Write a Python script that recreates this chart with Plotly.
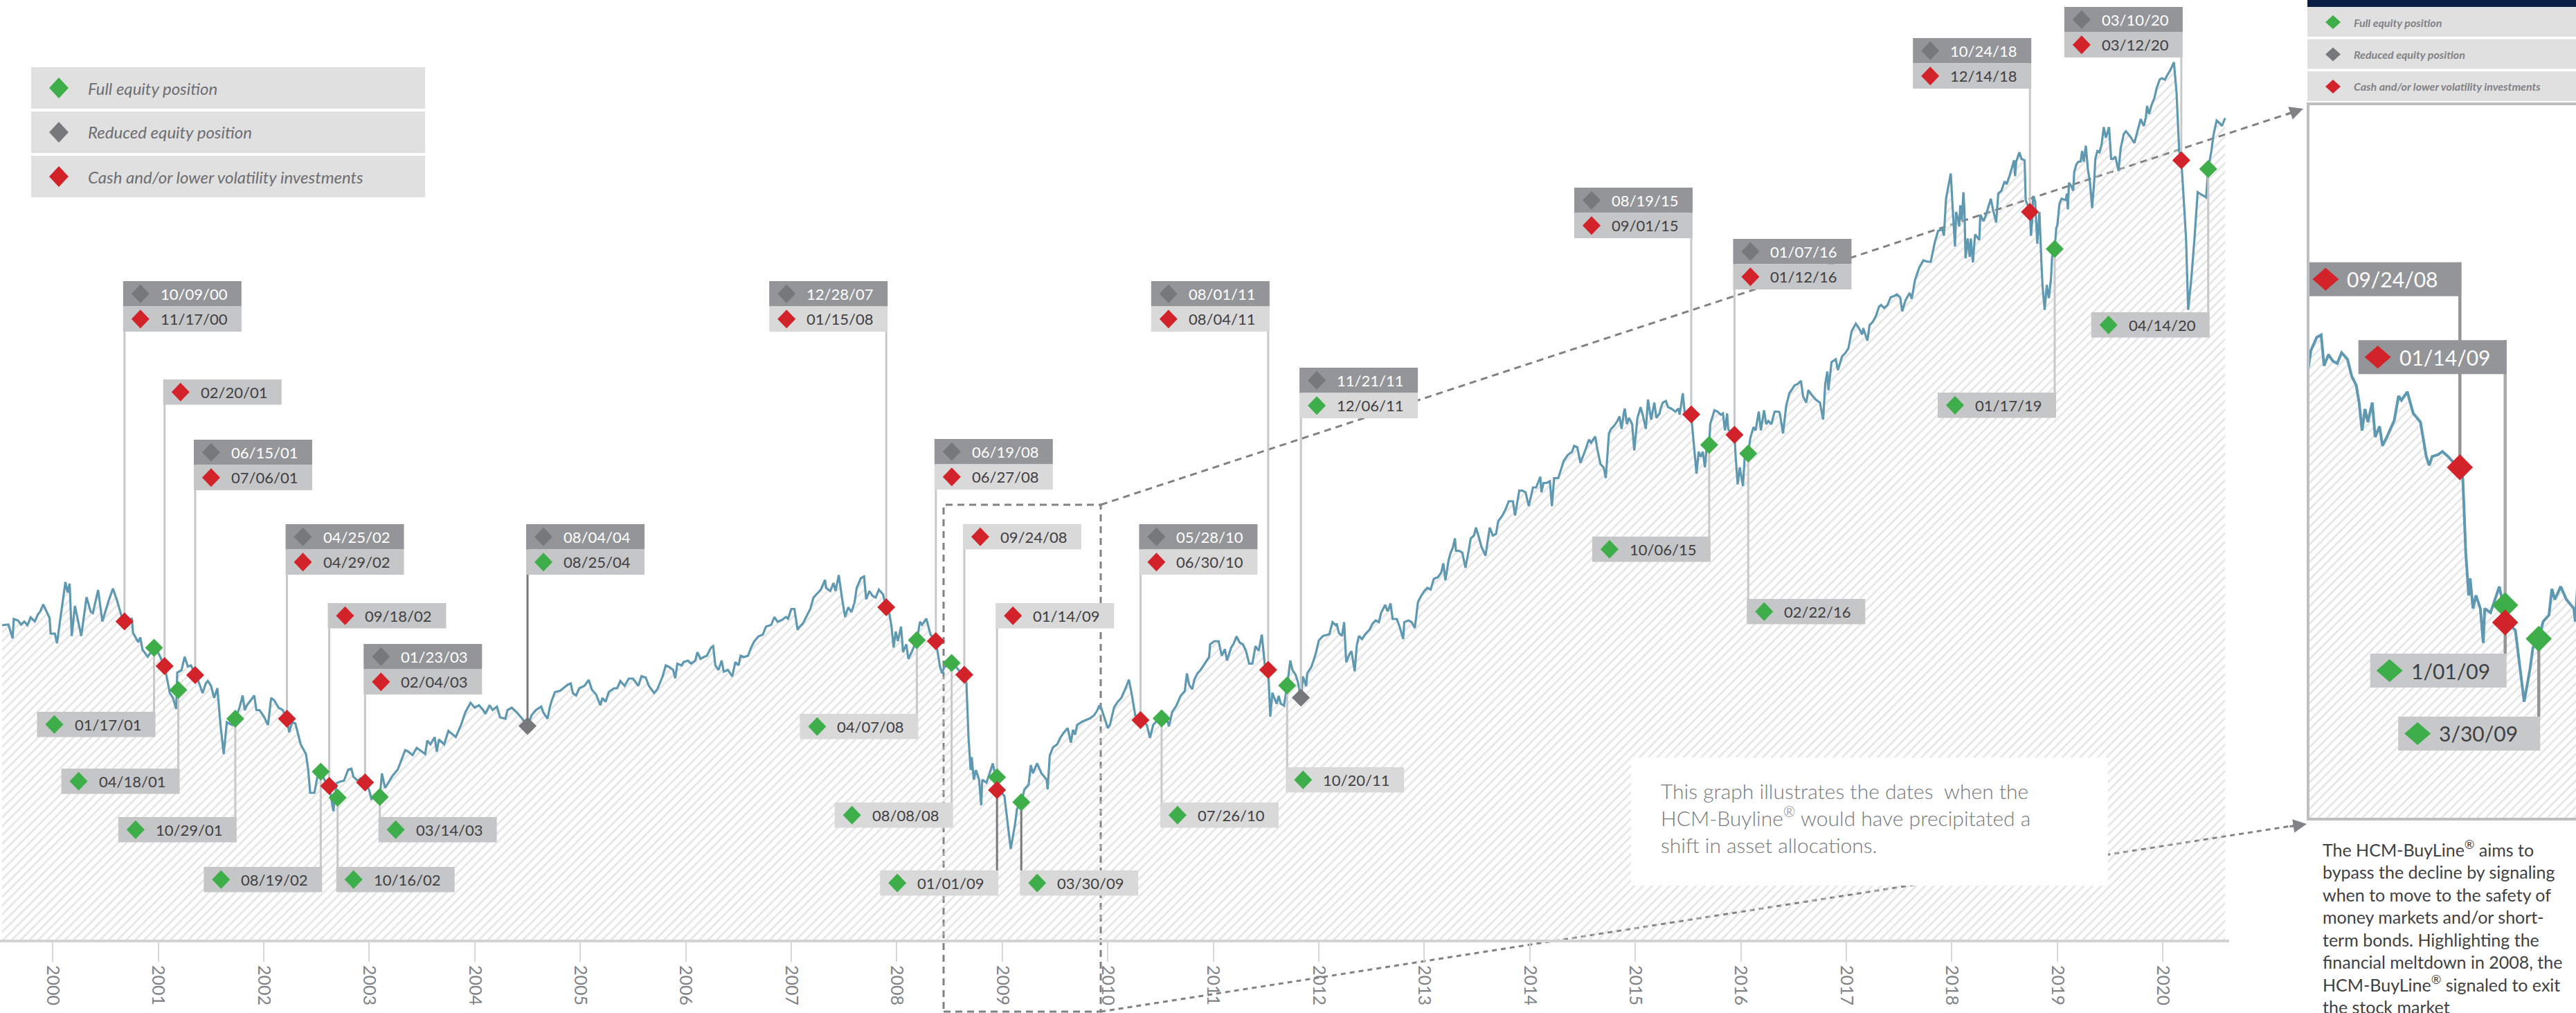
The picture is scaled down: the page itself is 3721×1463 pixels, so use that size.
import plotly.graph_objects as go

W, H = 3721, 1463

# ---------------- series (decimal year, index value) ----------------
years = [
 1999.52,1999.58,1999.62,1999.63,1999.67,1999.70,1999.73,1999.76,1999.79,1999.83,1999.86,1999.88,1999.91,1999.94,1999.97,1999.98,
 2000.02,2000.04,2000.09,2000.12,2000.14,2000.16,2000.18,2000.21,2000.27,2000.32,2000.36,2000.38,2000.43,2000.47,2000.53,2000.57,
 2000.61,2000.65,2000.68,2000.71,2000.75,2000.76,2000.81,2000.83,2000.85,2000.90,2000.96,2000.99,2001.06,2001.08,2001.11,2001.14,
 2001.17,2001.18,2001.22,2001.25,2001.28,2001.31,2001.35,2001.38,2001.42,2001.45,2001.47,2001.50,2001.53,2001.56,2001.59,2001.62,
 2001.65,2001.70,2001.73,2001.77,2001.80,2001.82,2001.84,2001.88,2001.91,2001.93,2001.96,2002.00,2002.04,2002.07,2002.10,2002.14,
 2002.18,2002.22,2002.24,2002.27,2002.30,2002.35,2002.40,2002.42,2002.44,2002.48,2002.51,2002.54,2002.58,2002.62,2002.64,2002.66,
 2002.69,2002.72,2002.76,2002.80,2002.83,2002.85,2002.89,2002.92,2002.96,2003.00,2003.02,2003.08,2003.10,2003.12,2003.15,2003.18,
 2003.22,2003.27,2003.31,2003.34,2003.37,2003.41,2003.45,2003.50,2003.53,2003.55,2003.58,2003.62,2003.64,2003.66,2003.71,2003.75,
 2003.79,2003.82,2003.87,2003.91,2003.96,2004.00,2004.04,2004.08,2004.10,2004.14,2004.17,2004.21,2004.24,2004.29,2004.31,2004.35,
 2004.40,2004.45,2004.50,2004.54,2004.58,2004.63,2004.65,2004.69,2004.71,2004.73,2004.76,2004.81,2004.88,2004.91,2004.93,2004.96,
 2004.99,2005.04,2005.08,2005.11,2005.15,2005.19,2005.21,2005.24,2005.27,2005.32,2005.35,2005.38,2005.42,2005.46,2005.50,2005.55,
 2005.58,2005.62,2005.65,2005.70,2005.73,2005.78,2005.81,2005.84,2005.88,2005.90,2005.92,2005.96,2005.98,2006.02,2006.05,2006.09,
 2006.11,2006.14,2006.17,2006.20,2006.24,2006.26,2006.28,2006.31,2006.34,2006.36,2006.40,2006.44,2006.47,2006.50,2006.52,2006.55,
 2006.59,2006.62,2006.65,2006.69,2006.73,2006.76,2006.81,2006.84,2006.87,2006.91,2006.95,2006.97,2007.00,2007.03,2007.06,2007.08,
 2007.11,2007.14,2007.18,2007.21,2007.24,2007.28,2007.32,2007.33,2007.37,2007.40,2007.42,2007.45,2007.48,2007.51,2007.54,2007.57,
 2007.60,2007.62,2007.66,2007.69,2007.71,2007.74,2007.77,2007.80,2007.83,2007.87,2007.90,2007.93,2007.95,2007.97,2007.99,2008.01,
 2008.04,2008.06,2008.09,2008.11,2008.14,2008.19,2008.22,2008.24,2008.28,2008.30,2008.32,2008.37,2008.39,2008.41,2008.43,2008.45,
 2008.49,2008.52,2008.56,2008.60,2008.64,2008.66,2008.68,2008.70,2008.71,2008.73,2008.75,2008.78,2008.80,2008.81,2008.85,2008.88,
 2008.91,2008.95,2008.99,2009.02,2009.04,2009.06,2009.08,2009.12,2009.14,2009.18,2009.21,2009.25,2009.27,2009.29,2009.33,2009.37,
 2009.42,2009.43,2009.45,2009.48,2009.52,2009.55,2009.58,2009.62,2009.65,2009.67,2009.69,2009.71,2009.76,2009.83,2009.87,2009.90,
 2009.92,2009.94,2009.97,2010.00,2010.02,2010.06,2010.09,2010.13,2010.17,2010.20,2010.23,2010.26,2010.31,2010.34,2010.37,2010.40,
 2010.43,2010.46,2010.51,2010.55,2010.58,2010.61,2010.65,2010.69,2010.73,2010.75,2010.77,2010.80,2010.82,2010.85,2010.88,2010.92,
 2010.96,2010.97,2011.01,2011.05,2011.08,2011.11,2011.13,2011.17,2011.19,2011.22,2011.25,2011.28,2011.31,2011.34,2011.37,2011.40,
 2011.43,2011.46,2011.49,2011.52,2011.53,2011.54,2011.56,2011.58,2011.60,2011.62,2011.64,2011.67,2011.70,2011.73,2011.75,2011.78,
 2011.80,2011.83,2011.85,2011.88,2011.89,2011.93,2011.97,
 2012.00,2012.04,2012.10,2012.13,2012.16,2012.17,2012.19,2012.22,2012.24,2012.26,2012.29,2012.31,2012.34,2012.36,2012.38,2012.41,
 2012.44,2012.48,2012.51,2012.54,2012.57,2012.59,2012.63,2012.65,2012.66,2012.68,2012.70,2012.74,2012.77,2012.80,2012.81,2012.85,
 2012.88,2012.91,2012.94,2012.97,2013.00,2013.03,2013.06,2013.09,2013.13,2013.16,2013.18,2013.20,2013.23,2013.25,2013.27,2013.29,
 2013.30,2013.33,2013.36,2013.39,2013.42,2013.44,2013.47,2013.49,2013.52,2013.54,2013.58,2013.61,2013.62,2013.65,2013.68,2013.70,
 2013.74,2013.77,2013.80,2013.84,2013.86,2013.90,2013.93,2013.96,2013.99,2014.03,2014.06,2014.10,2014.11,2014.13,2014.16,2014.19,
 2014.21,2014.23,2014.27,2014.32,2014.36,2014.40,2014.42,2014.45,2014.48,2014.53,2014.56,2014.58,2014.62,2014.64,2014.67,2014.70,
 2014.72,2014.75,2014.77,2014.80,2014.83,2014.85,2014.87,2014.89,2014.90,2014.92,2014.94,2014.97,2014.99,2015.02,2015.05,2015.07,
 2015.10,2015.12,2015.15,2015.18,2015.20,2015.23,2015.24,2015.26,2015.29,2015.31,2015.34,2015.38,2015.41,2015.42,2015.45,2015.47,
 2015.51,2015.53,2015.54,2015.56,2015.58,2015.60,2015.62,2015.64,2015.66,2015.68,2015.70,2015.71,2015.75,2015.78,2015.81,2015.83,
 2015.85,2015.87,2015.88,2015.91,2015.94,2015.95,2015.97,2015.99,2016.02,2016.04,2016.07,2016.09,2016.12,2016.14,2016.17,2016.19,
 2016.22,2016.24,2016.26,2016.29,2016.32,2016.36,2016.37,2016.40,2016.43,2016.46,2016.51,2016.54,2016.57,2016.59,2016.62,2016.64,
 2016.67,2016.71,2016.75,2016.78,2016.80,2016.82,2016.83,2016.86,2016.90,2016.92,2016.96,2016.99,2017.02,2017.05,2017.09,2017.12,
 2017.15,2017.16,2017.20,2017.22,2017.25,2017.28,2017.31,2017.33,2017.36,2017.39,2017.42,2017.46,2017.48,2017.51,2017.53,2017.56,
 2017.60,2017.62,2017.65,2017.69,2017.73,2017.77,2017.80,2017.84,2017.87,
 2017.91,2017.925,2017.945,2017.97,2017.99,2018.01,2018.03,2018.04,2018.06,2018.07,2018.08,2018.095,2018.11,2018.12,2018.13,2018.15,
 2018.17,2018.18,2018.20,2018.22,2018.24,2018.26,2018.27,2018.30,2018.32,2018.34,2018.37,2018.39,2018.42,2018.44,2018.47,2018.50,
 2018.52,2018.55,2018.59,2018.60,2018.61,2018.64,2018.66,2018.69,2018.70,2018.72,2018.74,2018.75,2018.76,2018.77,2018.79,2018.81,
 2018.83,2018.85,2018.86,2018.88,2018.90,2018.92,2018.94,2018.95,2018.975,2018.99,2019.00,2019.02,2019.04,2019.08,2019.09,2019.10,
 2019.11,2019.13,2019.15,2019.16,2019.18,2019.20,2019.22,2019.235,2019.25,2019.27,2019.29,2019.31,2019.33,2019.35,2019.36,2019.38,
 2019.40,2019.42,2019.44,2019.46,2019.48,2019.49,2019.51,2019.53,2019.55,2019.58,2019.60,2019.63,2019.65,2019.69,2019.73,2019.77,
 2019.79,2019.82,2019.84,2019.85,2019.87,2019.89,2019.92,2019.94,2019.97,2019.99,2020.02,2020.04,2020.07,2020.105,2020.13,2020.155,
 2020.175,2020.19,2020.22,2020.24,2020.27,2020.30,2020.33,2020.37,2020.41,2020.43,2020.46,2020.48,2020.51,2020.54,2020.56,2020.59,
]
values = [
 908,910,870,926,922,910,919,908,931,919,940,947,968,950,929,884,
 884,856,971,1033,1003,1028,877,964,877,989,947,943,1010,919,979,1014,
 979,936,919,908,929,887,859,873,838,817,843,835,790,761,712,698,
 666,771,778,817,789,792,764,747,712,740,747,733,698,726,620,536,
 628,620,638,670,705,663,677,694,705,663,663,645,620,698,691,670,
 663,638,599,628,624,564,536,494,424,424,473,485,459,444,410,371,
 452,456,459,491,494,470,459,466,454,431,406,417,412,480,438,452,
 473,491,522,547,543,533,554,543,536,575,564,585,543,578,564,603,
 592,585,620,656,684,670,677,663,652,677,663,673,642,638,663,670,
 656,638,617,649,663,673,656,638,670,691,715,719,736,740,712,705,
 726,733,750,722,708,677,698,687,715,726,726,747,733,754,754,733,
 761,757,733,712,723,760,792,788,779,755,797,792,802,806,797,806,
 830,811,816,820,844,848,792,779,806,774,779,760,802,792,820,816,
 820,844,862,876,881,904,909,932,918,923,932,927,955,955,895,904,
 913,932,955,988,997,1011,1039,1016,1007,1030,1007,1053,988,932,960,946,
 974,1016,1044,1049,983,1007,993,988,1011,997,960,941,904,844,890,862,
 904,830,853,811,830,865,918,909,927,904,881,862,825,788,769,788,
 792,799,788,774,765,741,583,490,527,462,490,462,388,462,453,481,
 509,450,425,415,360,313,262,332,378,397,434,448,504,481,509,481,
 462,434,532,555,564,583,597,611,569,606,592,620,630,639,648,662,
 676,667,639,611,620,671,685,699,727,751,704,648,634,630,620,583,
 620,630,639,648,616,657,676,704,718,769,737,723,751,769,779,797,
 816,853,862,862,820,839,806,844,853,876,858,853,834,797,797,848,
 834,881,788,779,695,644,713,699,681,704,681,676,734,806,779,765,
 746,699,760,732,769,788,825,
 864,877,882,917,908,913,886,877,917,801,824,833,775,850,877,868,
 882,895,913,922,917,944,967,949,953,971,926,926,900,868,917,922,
 917,900,975,993,1007,1016,1011,1042,1047,1060,1087,1038,1096,1118,1132,1159,
 1123,1123,1118,1074,1123,1159,1167,1190,1159,1136,1109,1167,1190,1167,1172,1208,
 1225,1243,1266,1266,1225,1297,1297,1292,1252,1306,1306,1337,1292,1319,1319,1324,
 1252,1333,1333,1382,1400,1409,1426,1422,1377,1417,1444,1435,1453,1417,1373,1364,
 1333,1462,1475,1484,1498,1511,1475,1520,1534,1489,1507,1489,1413,1507,1538,1516,
 1475,1560,1502,1551,1507,1520,1534,1551,1556,1538,1534,1525,1534,1516,1578,1516,
 1516,1517,1480,1409,1346,1409,1395,1409,1364,1435,1429,1489,1529,1525,1516,1520,
 1471,1520,1475,1462,1458,1400,1315,1364,1310,1409,1404,1449,1480,1471,1525,1471,
 1529,1489,1498,1489,1525,1525,1520,1462,1542,1578,1601,1605,1614,1569,1551,1587,
 1574,1560,1551,1502,1605,1641,1587,1668,1676,1645,1685,1694,1708,1757,1779,1766,
 1748,1766,1730,1775,1784,1801,1828,1833,1824,1833,1855,1860,1864,1855,1815,1846,
 1868,1851,1904,1940,1962,1958,1958,2016,2047,
 2052,2033,2140,2178,2213,2102,2002,2102,2079,2060,2121,2079,2159,2102,1968,2025,
 1972,2025,1956,2037,2029,2021,2094,2075,2090,2109,2140,2109,2071,2155,2163,2190,
 2182,2209,2251,2205,2247,2274,2255,2251,2136,2121,2102,2033,2071,2148,2132,2010,
 2102,1949,1887,1819,1891,1853,1910,1972,1995,2056,2063,2125,2140,2136,2155,2109,
 2186,2178,2163,2217,2239,2247,2247,2278,2247,2293,2224,2186,2113,2193,2255,2278,
 2274,2297,2347,2316,2339,2347,2255,2255,2262,2220,2285,2327,2335,2320,2301,2347,
 2370,2350,2377,2408,2385,2408,2431,2458,2484,2488,2484,2496,2511,2534,2446,2278,
 2251,2178,2025,1819,1910,2025,2159,2151,2144,2226,2278,2324,2366,2358,2350,2373,
]

# ---------------- allocation signals plotted on the line ----------------
sig_years = [2000.68, 2000.96, 2001.06, 2001.19, 2001.35, 2001.73, 2002.22, 2002.54, 2002.62, 2002.70,
             2002.96, 2003.10, 2004.50, 2007.90, 2008.19, 2008.37, 2008.52, 2008.64, 2008.95, 2008.95,
             2009.18, 2010.31, 2010.51, 2011.52, 2011.70, 2011.83, 2015.53, 2015.70, 2015.94, 2016.07,
             2018.74, 2018.975, 2020.175, 2020.43]
sig_values = [919, 843, 790, 721, 764, 638, 638, 485, 444, 410,
              454, 412, 617, 960, 865, 862, 799, 765, 469, 432,
              397, 634, 639, 779, 734, 699, 1517, 1429, 1458, 1404,
              2102, 1995, 2251, 2226]
sig_kinds = ['cash', 'full', 'cash', 'full', 'cash', 'full', 'cash', 'full', 'cash', 'full',
             'cash', 'full', 'reduced', 'cash', 'full', 'cash', 'full', 'cash', 'full', 'cash',
             'full', 'cash', 'full', 'cash', 'full', 'reduced', 'cash', 'full', 'cash', 'full',
             'cash', 'full', 'cash', 'full']

# ---------------- date call-outs ----------------
lab_signal = [0, 2, 4, 6, 8, 10, 12, 13, 15, 17, 19, 21, 23, 25, 26, 28, 30, 32,
              1, 3, 5, 7, 9, 11, 14, 16, 18, 20, 22, 24, 27, 29, 31, 33]
lab_rows = [
    [('reduced', '10/09/00'), ('cash', '11/17/00')],
    [('cash', '02/20/01')],
    [('reduced', '06/15/01'), ('cash', '07/06/01')],
    [('reduced', '04/25/02'), ('cash', '04/29/02')],
    [('cash', '09/18/02')],
    [('reduced', '01/23/03'), ('cash', '02/04/03')],
    [('reduced', '08/04/04'), ('full', '08/25/04')],
    [('reduced', '12/28/07'), ('cash', '01/15/08')],
    [('reduced', '06/19/08'), ('cash', '06/27/08')],
    [('cash', '09/24/08')],
    [('cash', '01/14/09')],
    [('reduced', '05/28/10'), ('cash', '06/30/10')],
    [('reduced', '08/01/11'), ('cash', '08/04/11')],
    [('reduced', '11/21/11'), ('full', '12/06/11')],
    [('reduced', '08/19/15'), ('cash', '09/01/15')],
    [('reduced', '01/07/16'), ('cash', '01/12/16')],
    [('reduced', '10/24/18'), ('cash', '12/14/18')],
    [('reduced', '03/10/20'), ('cash', '03/12/20')],
    [('full', '01/17/01')],
    [('full', '04/18/01')],
    [('full', '10/29/01')],
    [('full', '08/19/02')],
    [('full', '10/16/02')],
    [('full', '03/14/03')],
    [('full', '04/07/08')],
    [('full', '08/08/08')],
    [('full', '01/01/09')],
    [('full', '03/30/09')],
    [('full', '07/26/10')],
    [('full', '10/20/11')],
    [('full', '10/06/15')],
    [('full', '02/22/16')],
    [('full', '01/17/19')],
    [('full', '04/14/20')],
]
lab_top = [1902, 1618, 1444, 1200, 972, 854, 1200, 1902, 1446, 1200, 972, 1200, 1902, 1652, 2172, 2024, 2604, 2694,
           658, 494, 354, 210, 210, 354, 652, 396, 200, 200, 396, 498, 1164, 984, 1580, 1812]
lab_side = ['R', 'R', 'R', 'R', 'R', 'R', 'R', 'L', 'R', 'R', 'R', 'R', 'L', 'R', 'L', 'R', 'L', 'L',
            'L', 'L', 'L', 'L', 'R', 'R', 'L', 'L', 'L', 'R', 'R', 'R', 'L', 'R', 'L', 'L']
dark_leader_signals = [12, 18, 20]

# inset (2008 close-up) call-outs
inset_signal = [17, 19, 18, 20]
inset_text = ['09/24/08', '01/14/09', '1/01/09', '3/30/09']
inset_top = [1205, 1038, 365, 230]
inset_width = [224, 214, 197, 205]
inset_tone = ['dark', 'dark', 'light', 'light']
inset_leader_color = ['#939598', '#a7a9ac', '#939598', '#939598']

tick_years = list(range(2000, 2021))
tick_text = [str(y) for y in tick_years]

legend_items = [('full', 'Full equity position'), ('reduced', 'Reduced equity position'),
                ('cash', 'Cash and/or lower volatility investments')]

# ---------------- styling ----------------
COL = {'full': '#3dae49', 'reduced': '#77787b', 'cash': '#d2232a'}
LINE_COL = '#5e98b1'
FONT = 'Lato'


def px(x):
    return x / W


def py(y):
    return 1 - y / H


fig = go.Figure()
hatch = dict(shape='/', fgcolor='#cdcdcd', bgcolor='rgba(0,0,0,0)', size=9, solidity=0.32)

# main series
fig.add_trace(go.Scatter(x=years, y=values, mode='lines', line=dict(color=LINE_COL, width=3.2),
                         fill='tozeroy', fillcolor='rgba(0,0,0,0)', fillpattern=hatch,
                         hoverinfo='skip', showlegend=False, xaxis='x', yaxis='y'))

# leader lines
for dark in (False, True):
    lx, ly = [], []
    for i, s in enumerate(lab_signal):
        if (s in dark_leader_signals) != dark:
            continue
        lx += [sig_years[s], sig_years[s], None]
        ly += [sig_values[s], lab_top[i], None]
    fig.add_trace(go.Scatter(x=lx, y=ly, mode='lines',
                             line=dict(color='#77787b' if dark else '#c7c8ca', width=3),
                             hoverinfo='skip', showlegend=False, xaxis='x', yaxis='y'))

for kind in ('full', 'reduced', 'cash'):
    xs = [sig_years[i] for i in range(len(sig_years)) if sig_kinds[i] == kind]
    ys = [sig_values[i] for i in range(len(sig_values)) if sig_kinds[i] == kind]
    fig.add_trace(go.Scatter(x=xs, y=ys, mode='markers',
                             marker=dict(symbol='diamond', size=20, color=COL[kind], line=dict(width=0)),
                             hoverinfo='skip', showlegend=False, xaxis='x', yaxis='y'))

# inset series
fig.add_trace(go.Scatter(x=years, y=values, mode='lines', line=dict(color=LINE_COL, width=4),
                         fill='tozeroy', fillcolor='rgba(0,0,0,0)', fillpattern=hatch,
                         hoverinfo='skip', showlegend=False, xaxis='x2', yaxis='y2'))
for j, s in enumerate(inset_signal):
    fig.add_trace(go.Scatter(x=[sig_years[s], sig_years[s]], y=[sig_values[s], inset_top[j]], mode='lines',
                             line=dict(color=inset_leader_color[j], width=4.5),
                             hoverinfo='skip', showlegend=False, xaxis='x2', yaxis='y2'))
for kind in ('full', 'cash'):
    idx = [s for s in inset_signal if sig_kinds[s] == kind]
    fig.add_trace(go.Scatter(x=[sig_years[s] for s in idx], y=[sig_values[s] for s in idx], mode='markers',
                             marker=dict(symbol='diamond', size=29, color=COL[kind], line=dict(width=0)),
                             hoverinfo='skip', showlegend=False, xaxis='x2', yaxis='y2'))

shapes = []
annots = []


def diamond_path(cx, cy, hw, hh):
    return f"M{cx - hw},{cy} L{cx},{cy + hh} L{cx + hw},{cy} L{cx},{cy - hh} Z"


def callout(xref, yref, xa, top, rows, side, width, row_h, dia_dx, txt_dx, hw, hh, fsize, fills):
    left = -2 if side == 'R' else -(width - 2)
    for r, (kind, text) in enumerate(rows):
        fill, tcol = fills[r]
        shapes.append(dict(type='rect', xref=xref, yref=yref, xsizemode='pixel', ysizemode='pixel',
                           xanchor=xa, yanchor=top, x0=left, x1=left + width,
                           y0=-r * row_h, y1=-(r + 1) * row_h, fillcolor=fill, line=dict(width=0), layer='above'))
        cy = -(r + 0.5) * row_h
        shapes.append(dict(type='path', xref=xref, yref=yref, xsizemode='pixel', ysizemode='pixel',
                           xanchor=xa, yanchor=top, path=diamond_path(left + dia_dx, cy, hw, hh),
                           fillcolor=COL[kind], line=dict(width=0), layer='above'))
        annots.append(dict(x=xa, y=top, xref=xref, yref=yref, text=text, showarrow=False,
                           xanchor='left', yanchor='middle', xshift=left + txt_dx, yshift=cy,
                           font=dict(family=FONT, size=fsize, color=tcol)))


# dashed zoom frame and connectors (under the series)
dash_line = dict(color='#808285', width=3, dash='10px,7px')
shapes.append(dict(type='rect', xref='paper', yref='paper', x0=px(1363), x1=px(1590), y0=py(1461), y1=py(729),
                   line=dash_line, fillcolor='rgba(0,0,0,0)', layer='below'))
shapes.append(dict(type='line', xref='paper', yref='paper', x0=px(1590), y0=py(729), x1=px(3318), y1=py(160),
                   line=dash_line, layer='below'))
shapes.append(dict(type='line', xref='paper', yref='paper', x0=px(1590), y0=py(1461), x1=px(3322), y1=py(1191),
                   line=dict(color='#808285', width=3, dash='7px,6px'), layer='below'))
annots.append(dict(x=px(3327), y=py(157), xref='paper', yref='paper', ax=-26, ay=9, text='', showarrow=True,
                   arrowhead=2, arrowsize=1.3, arrowwidth=3, arrowcolor='#808285'))
annots.append(dict(x=px(3332), y=py(1190), xref='paper', yref='paper', ax=-26, ay=4, text='', showarrow=True,
                   arrowhead=2, arrowsize=1.3, arrowwidth=3, arrowcolor='#808285'))

# main call-outs
for i, s in enumerate(lab_signal):
    soft = 2007.5 < sig_years[s] < 2012.5
    fills = []
    for kind, _ in lab_rows[i]:
        if kind == 'reduced':
            fills.append(('#939598', '#ffffff'))
        else:
            fills.append(('#d9d9da' if soft else '#c5c6c8', '#414042'))
    callout('x', 'y', sig_years[s], lab_top[i], lab_rows[i], lab_side[i], 171, 36.5, 25, 52, 13, 13.5, 22, fills)

# inset call-outs
for j, s in enumerate(inset_signal):
    if inset_tone[j] == 'dark':
        fills = [('#939598', '#ffffff')]
    else:
        fills = [('#c7c8ca', '#414042')]
    callout('x2', 'y2', sig_years[s], inset_top[j], [(sig_kinds[s], inset_text[j])], 'L',
            inset_width[j], 49, 28, 57, 19, 16.5, 30, fills)

# inset frame
frame = dict(color='#bcbec0', width=4)
shapes.append(dict(type='line', xref='paper', yref='paper', x0=px(3334), x1=px(3334), y0=py(1185), y1=py(148),
                   line=frame, layer='above'))
shapes.append(dict(type='line', xref='paper', yref='paper', x0=px(3334), x1=1, y0=py(150), y1=py(150),
                   line=frame, layer='above'))
shapes.append(dict(type='line', xref='paper', yref='paper', x0=px(3334), x1=1, y0=py(1183), y1=py(1183),
                   line=frame, layer='above'))

# explanatory note in the chart
shapes.append(dict(type='rect', xref='paper', yref='paper', x0=px(2356), x1=px(3045), y0=py(1279), y1=py(1094),
                   fillcolor='white', line=dict(width=0), layer='above'))
annots.append(dict(x=px(2397), y=py(1122), xref='paper', yref='paper', xanchor='left', yanchor='top',
                   align='left', showarrow=False,
                   text='This graph illustrates the dates  when the<br>HCM-Buyline<sup>®</sup> would have precipitated a'
                        '<br>shift in asset allocations.',
                   font=dict(family=FONT, size=30, color='#77787b', weight=300)))

# main legend
for k, (kind, text) in enumerate(legend_items):
    y0 = 97 + k * 64
    shapes.append(dict(type='rect', xref='paper', yref='paper', x0=px(45), x1=px(614), y0=py(y0 + 60), y1=py(y0),
                       fillcolor='#e1e0e1', line=dict(width=0), layer='above'))
    shapes.append(dict(type='path', xref='paper', yref='paper', xsizemode='pixel', ysizemode='pixel',
                       xanchor=px(85), yanchor=py(y0 + 30), path=diamond_path(0, 0, 14, 15),
                       fillcolor=COL[kind], line=dict(width=0), layer='above'))
    annots.append(dict(x=px(125), y=py(y0 + 30), xref='paper', yref='paper', xanchor='left', yanchor='middle',
                       text=f'<i>{text}</i>', showarrow=False,
                       font=dict(family=FONT, size=24, color='#6d6e71')))

# right panel legend
shapes.append(dict(type='rect', xref='paper', yref='paper', x0=px(3333), x1=1, y0=py(10), y1=1,
                   fillcolor='#0b1f45', line=dict(width=0), layer='above'))
for k, (kind, text) in enumerate(legend_items):
    y0 = 10 + k * 46.5
    shapes.append(dict(type='rect', xref='paper', yref='paper', x0=px(3333), x1=1, y0=py(y0 + 43), y1=py(y0),
                       fillcolor='#e1e0e1', line=dict(width=0), layer='above'))
    shapes.append(dict(type='path', xref='paper', yref='paper', xsizemode='pixel', ysizemode='pixel',
                       xanchor=px(3370), yanchor=py(y0 + 22), path=diamond_path(0, 0, 11, 10),
                       fillcolor=COL[kind], line=dict(width=0), layer='above'))
    annots.append(dict(x=px(3398), y=py(y0 + 22), xref='paper', yref='paper', xanchor='left', yanchor='middle',
                       text=f'<i>{text}</i>', showarrow=False,
                       font=dict(family=FONT, size=16, color='#808285', weight=700)))

# right panel text
annots.append(dict(x=px(3353), y=py(1207), xref='paper', yref='paper', xanchor='left', yanchor='top',
                   align='left', showarrow=False,
                   text='The HCM-BuyLine<sup>®</sup> aims to<br>bypass the decline by signaling<br>'
                        'when to move to the safety of<br>money markets and/or short-<br>'
                        'term bonds. Highlighting the<br>financial meltdown in 2008, the<br>'
                        'HCM-BuyLine<sup>®</sup> signaled to exit<br>the stock market',
                   font=dict(family=FONT, size=25, color='#414042')))

x_end = 2000 + (3220 - 76.2) / 152.4
fig.update_layout(
    width=W, height=H, autosize=False,
    margin=dict(l=0, r=0, t=0, b=0, pad=0),
    paper_bgcolor='white', plot_bgcolor='rgba(0,0,0,0)',
    showlegend=False, hovermode=False,
    xaxis=dict(domain=[0, 3220 / W], range=[1999.5, x_end], showgrid=False, zeroline=False,
               showline=True, linecolor='#d1d3d4', linewidth=4,
               ticks='outside', ticklen=28, tickwidth=2, tickcolor='#d6d7d8',
               tickvals=tick_years, ticktext=tick_text, tickangle=90,
               tickfont=dict(family=FONT, size=25, color='#808285'), anchor='y'),
    yaxis=dict(domain=[1 - 1357 / H, 1], range=[0, 2714], visible=False, anchor='x'),
    xaxis2=dict(domain=[3336 / W, 1], range=[2007.61, 2009.435], visible=False, anchor='y2'),
    yaxis2=dict(domain=[1 - 1183 / H, 1 - 150 / H], range=[10, 1545], visible=False, anchor='x2'),
    shapes=shapes, annotations=annots,
)

fig.write_html("out.html", config={'displayModeBar': False},
               post_script="document.body.style.margin='0';document.body.style.padding='0';"
                           "document.body.style.overflow='hidden';")
